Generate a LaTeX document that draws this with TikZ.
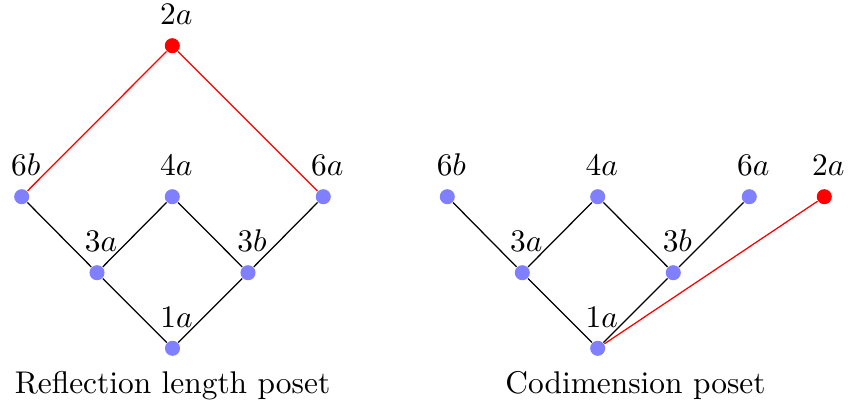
\documentclass[tikz,border=0pt]{standalone}
\begin{document}
\begin{tikzpicture}[x=0.3185pt,y=-0.3185pt,
  vtx/.style={circle,fill=blue!50,inner sep=0pt,minimum size=4.8pt},
  rvtx/.style={vtx,fill=red},
  edge/.style={draw=black,line width=0.4pt},
  redge/.style={draw=red,line width=0.4pt},
  every label/.style={label distance=0.5pt,xshift=1.3pt}]
\useasboundingbox (0,0) rectangle (848,406);
% left diagram
\node[rvtx,label=above:$2a$] (L2a) at (172.3,45.7) {};
\node[vtx,label=above:$6b$] (L6b) at (21.7,196.7) {};
\node[vtx,label=above:$4a$] (L4a) at (172.3,196.7) {};
\node[vtx,label=above:$6a$] (L6a) at (323.3,196.7) {};
\node[vtx,label=above:$3a$] (L3a) at (97,272.7) {};
\node[vtx,label=above:$3b$] (L3b) at (248,272.7) {};
\node[vtx,label=above:$1a$] (L1a) at (172.5,348.3) {};
\draw[edge] (L6b) -- (L3a) -- (L4a) -- (L3b) -- (L6a);
\draw[edge] (L3a) -- (L1a) -- (L3b);
\draw[redge] (L6b) -- (L2a) -- (L6a);
\node[anchor=base] (capL) at (172.5,393) {Reflection length poset};
% right diagram
\node[vtx,label=above:$6b$] (R6b) at (447.3,196.7) {};
\node[vtx,label=above:$4a$] (R4a) at (597.7,196.7) {};
\node[vtx,label=above:$6a$] (R6a) at (749.3,196.7) {};
\node[rvtx,label=above:$2a$] (R2a) at (824.3,196.7) {};
\node[vtx,label=above:$3a$] (R3a) at (522.3,272.7) {};
\node[vtx,label=above:$3b$] (R3b) at (673.3,272.7) {};
\node[vtx,label=above:$1a$] (R1a) at (597.7,348.3) {};
\draw[edge] (R6b) -- (R3a) -- (R4a) -- (R3b) -- (R6a);
\draw[edge] (R3a) -- (R1a) -- (R3b);
\draw[redge] (R1a) -- (R2a);
\node[anchor=base] (capR) at (635.5,393) {Codimension poset};
\end{tikzpicture}
\end{document}
